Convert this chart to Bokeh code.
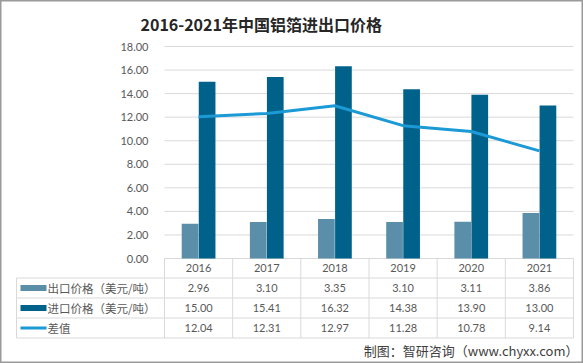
from bokeh.plotting import figure
from bokeh.models import (ColumnDataSource, Range1d, FixedTicker, LinearAxis,
                          CustomJSTickFormatter)
from bokeh.transform import dodge
from bokeh.core.properties import value
from bokeh.embed import file_html
from bokeh.resources import INLINE

# ---------------- data ----------------
years = ["2016", "2017", "2018", "2019", "2020", "2021"]
export_price = [2.96, 3.10, 3.35, 3.10, 3.11, 3.86]
import_price = [15.00, 15.41, 16.32, 14.38, 13.90, 13.00]
diff = [12.04, 12.31, 12.97, 11.28, 10.78, 9.14]
series_names = ["出口价格（美元/吨）", "进口价格（美元/吨）", "差值"]
y_ticks = [0, 2, 4, 6, 8, 10, 12, 14, 16, 18]
title_text = "2016-2021年中国铝箔进出口价格"
source_text = "制图：智研咨询（www.chyxx.com）"

C_EXP = "#5b8fa9"
C_IMP = "#00628a"
C_LINE = "#1b9ad6"
GRID = "#d9d9d9"
TXT = "#595959"
NUMF = "Lato"
CJK = "Noto Sans CJK SC"

# ---------------- layout (pixels inside the canvas) ----------------
W, H = 583, 363
ZERO_Y = 258      # canvas y of value 0
TOP18_Y = 46      # canvas y of value 18
CAT0_X = 164      # canvas x of first category boundary
CAT_END_X = 573   # canvas x of last category boundary
TABLE_LEFT_X = 16 # canvas x of legend column left edge
n = len(years)
xc = [i + 0.5 for i in range(n)]

PXU = (ZERO_Y - TOP18_Y) / 18.0
PXX = (CAT_END_X - CAT0_X) / float(n)
Y_START, Y_END = -(H - ZERO_Y) / PXU, ZERO_Y / PXU
X_START, X_END = -CAT0_X / PXX, (W - CAT0_X) / PXX
LEFT = (TABLE_LEFT_X - CAT0_X) / PXX

def ypx(py):  # canvas y pixel -> data y
    return (ZERO_Y - py) / PXU

def xpx(px):  # canvas x pixel -> data x
    return (px - CAT0_X) / PXX

src = ColumnDataSource(dict(xc=xc, year=years, exp=export_price, imp=import_price, diff=diff))

p = figure(width=W, height=H, x_range=Range1d(X_START, X_END),
           y_range=Range1d(Y_START, Y_END), output_backend="svg", toolbar_location=None,
           min_border_left=0, min_border_right=0, min_border_top=0, min_border_bottom=0,
           x_axis_location=None, y_axis_location=None)
p.outline_line_color = "#9a9a9a"
p.outline_line_width = 2
p.grid.grid_line_color = None

yax = LinearAxis(ticker=FixedTicker(ticks=y_ticks), fixed_location=0,
                 formatter=CustomJSTickFormatter(code="return tick.toFixed(2);"))
yax.axis_line_color = None
yax.major_tick_line_color = None
yax.minor_tick_line_color = None
yax.major_label_standoff = 10
yax.major_label_text_font = NUMF
yax.major_label_text_font_size = "11px"
yax.major_label_text_color = TXT
p.add_layout(yax, "left")

# gridlines over the category area
p.segment(x0=[0] * len(y_ticks), x1=[n] * len(y_ticks), y0=y_ticks, y1=y_ticks,
          line_color=GRID, line_width=1)

p.vbar(x=dodge("xc", -0.125), top="exp", width=0.245, bottom=0,
       source=src, fill_color=C_EXP, line_color=None)
p.vbar(x=dodge("xc", 0.125), top="imp", width=0.245, bottom=0,
       source=src, fill_color=C_IMP, line_color=None)
p.line(x="xc", y="diff", source=src, line_color=C_LINE, line_width=3)

# title
p.text(x=[xpx(140)], y=[ypx(23)], text=[title_text], text_align="left",
       text_baseline="middle", text_font=value(CJK), text_font_size="16px",
       text_font_style="bold", text_color="#262626")

# ---------------- data table ----------------
bounds_px = [ZERO_Y, ZERO_Y + 19.5, ZERO_Y + 39.5, ZERO_Y + 59.5, ZERO_Y + 79.5]
rb = [ypx(b) for b in bounds_px]
rc = [(rb[i] + rb[i + 1]) / 2 for i in range(4)]

p.segment(x0=[LEFT] * 4, x1=[n] * 4, y0=rb[1:], y1=rb[1:], line_color=GRID, line_width=1)
cols = list(range(0, n + 1))
p.segment(x0=cols, x1=cols, y0=[rb[0]] * len(cols), y1=[rb[4]] * len(cols),
          line_color=GRID, line_width=1)
p.segment(x0=[LEFT], x1=[LEFT], y0=[rb[1]], y1=[rb[4]], line_color=GRID, line_width=1)

p.text(x=xc, y=[rc[0]] * n, text=years, text_align="center", text_baseline="middle",
       text_font=value(NUMF), text_font_size="11px", text_color=TXT)
for r, vals in enumerate([export_price, import_price, diff], start=1):
    p.text(x=xc, y=[rc[r]] * n, text=["%.2f" % v for v in vals],
           text_align="center", text_baseline="middle",
           text_font=value(NUMF), text_font_size="11px", text_color=TXT)

sx0 = xpx(TABLE_LEFT_X + 4)
sx1 = xpx(TABLE_LEFT_X + 30)
p.segment(x0=[sx0, sx0], x1=[sx1, sx1], y0=rc[1:3], y1=rc[1:3],
          line_color=[C_EXP, C_IMP], line_width=6, line_cap="butt")
p.segment(x0=[sx0], x1=[sx1], y0=[rc[3]], y1=[rc[3]], line_color=C_LINE, line_width=3,
          line_cap="butt")
p.text(x=[LEFT] * 3, y=rc[1:], text=series_names, x_offset=31,
       text_align="left", text_baseline="middle", text_font=value(CJK),
       text_font_size="11.5px", text_color=TXT)

p.text(x=[xpx(578)], y=[ypx(350)], text=[source_text], text_align="right",
       text_baseline="middle", text_font=value(CJK), text_font_size="13px",
       text_color="#404040")

open("out.html", "w").write(file_html(p, INLINE))
